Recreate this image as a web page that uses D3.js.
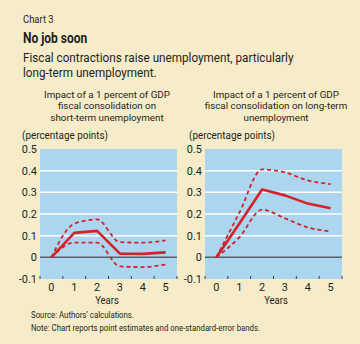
<!DOCTYPE html>
<html>
<head>
<meta charset="utf-8">
<script src="https://cdn.jsdelivr.net/npm/d3@7"></script>
<style>
  html, body { margin: 0; padding: 0; background: #f6ecc9; }
  svg { display: block; }
  text { font-family: Roboto, "Liberation Sans", sans-serif; fill: #231f20; }
</style>
</head>
<body>
<svg id="chart" width="360" height="344"></svg>
<script>
const years = [0, 1, 2, 3, 4, 5]
const yTicks = [-0.1, 0, 0.1, 0.2, 0.3, 0.4, 0.5]

// short-term unemployment response
const shortEst = [0, 0.113, 0.122, 0.017, 0.016, 0.023]
const shortHigh = [0, 0.155, 0.175, 0.070, 0.068, 0.078]
const shortLow = [0, 0.068, 0.068, -0.042, -0.045, -0.033]

// long-term unemployment response
const longEst = [0, 0.155, 0.313, 0.286, 0.248, 0.227]
const longHigh = [0, 0.205, 0.406, 0.392, 0.355, 0.338]
const longLow = [0, 0.092, 0.220, 0.180, 0.138, 0.120]

const panels = [
  { title: ["Impact of a 1 percent of GDP", "fiscal consolidation on", "short-term unemployment"],
    est: shortEst, high: shortHigh, low: shortLow, left: 40, cx: 107, labelX: 22 },
  { title: ["Impact of a 1 percent of GDP", "fiscal consolidation on long-term", "unemployment"],
    est: longEst, high: longHigh, low: longLow, left: 205, cx: 276, labelX: 189 }
]

const red = "#d2232a"
const narrow = 0.9
const svg = d3.select("#chart")

// condensed text: squeeze horizontally around the anchor point
function label(parent, x, y, size, txt, anchor, sx) {
  return parent.append("text")
    .attr("transform", `translate(${x},${y}) scale(${sx || narrow},1)`)
    .attr("font-size", size)
    .attr("text-anchor", anchor || "start")
    .text(txt)
}

label(svg, 23, 23, 10.5, "Chart 3")
label(svg, 23, 43, 15, "No job soon", "start", 0.8).attr("font-weight", "bold")
label(svg, 23, 62, 13, "Fiscal contractions raise unemployment, particularly")
label(svg, 23, 77, 13, "long-term unemployment.")

label(svg, 31, 318, 8.5, "Source: Authors’ calculations.", "start", 0.92)
label(svg, 31, 331, 8.5, "Note: Chart reports point estimates and one-standard-error bands.", "start", 0.92)

panels.forEach(p => {
  let w = 137
  let top = 149, bottom = 279
  let x = d3.scaleLinear().domain([-0.5, 5.5]).range([p.left, p.left + w])
  let y = d3.scaleLinear().domain([-0.1, 0.5]).range([bottom, top])
  let g = svg.append("g")

  p.title.forEach((t, i) => label(g, p.cx, 98 + i * 11.4, 9.8, t, "middle", 1))
  label(g, p.labelX, 139, 11, "(percentage points)")

  g.append("rect").attr("x", p.left).attr("y", top).attr("width", w).attr("height", bottom - top)
    .attr("fill", "#acd5ef")

  g.selectAll(".grid").data(yTicks.filter(d => d > 0 && d < 0.5)).enter()
    .append("line")
    .attr("x1", p.left).attr("x2", p.left + w)
    .attr("y1", d => y(d)).attr("y2", d => y(d))
    .attr("stroke", "#fff").attr("stroke-width", 1.5)

  g.append("line").attr("x1", p.left).attr("x2", p.left + w)
    .attr("y1", y(0)).attr("y2", y(0))
    .attr("stroke", "#55606a").attr("stroke-width", 1.5)

  // small ticks between the years along the bottom edge
  g.selectAll(".xtick").data(d3.range(-0.5, 5.6, 1)).enter()
    .append("line")
    .attr("x1", d => x(d)).attr("x2", d => x(d))
    .attr("y1", bottom).attr("y2", bottom - 3)
    .attr("stroke", "#3a3f45").attr("stroke-width", 1)

  yTicks.forEach(d => {
    label(g, p.left - 3, y(d) + 4, 11.5, d === 0 ? "0" : d3.format(".1f")(d).replace("\u2212", "-"), "end", 0.95)
  })
  years.forEach(d => label(g, x(d), 290.5, 11.5, d, "middle", 0.95))

  label(g, p.cx, 303.5, 10.5, "Years", "middle")

  let band = d3.line().x((d, i) => x(years[i])).y(d => y(d)).curve(d3.curveMonotoneX)
  let est = d3.line().x((d, i) => x(years[i])).y(d => y(d))

  ;[p.high, p.low].forEach(s => {
    g.append("path").attr("d", band(s)).attr("fill", "none")
      .attr("stroke", red).attr("stroke-width", 1.8).attr("stroke-dasharray", "4,3")
  })
  g.append("path").attr("d", est(p.est)).attr("fill", "none")
    .attr("stroke", red).attr("stroke-width", 2.6).attr("stroke-linejoin", "round")
})
</script>
</body>
</html>
